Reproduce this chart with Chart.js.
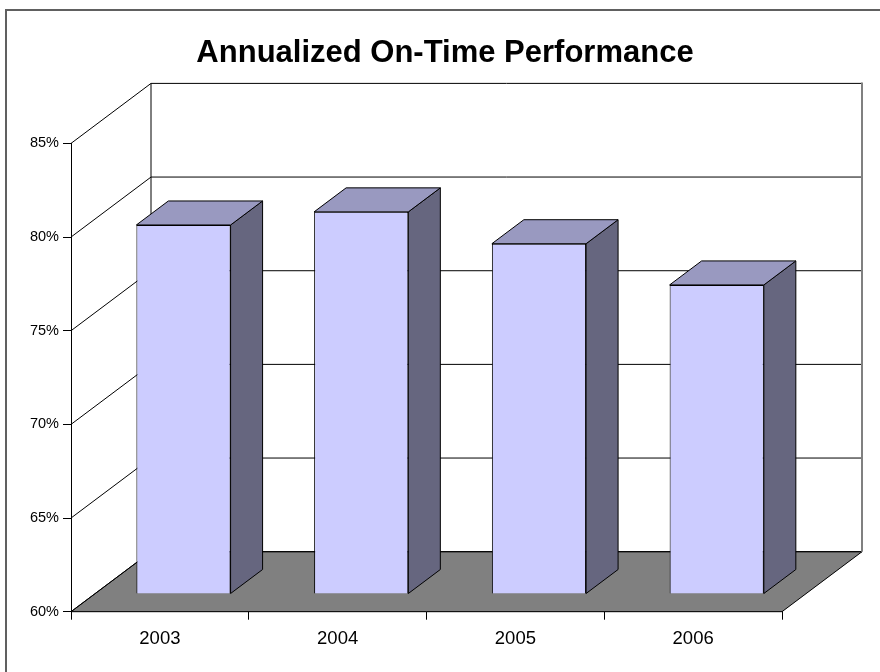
<!DOCTYPE html>
<html>
<head>
<meta charset="utf-8">
<script src="https://cdn.jsdelivr.net/npm/chart.js@4/dist/chart.umd.min.js"></script>
<style>
html, body { margin: 0; padding: 0; background: #fff; }
#wrap { width: 880px; height: 672px; }
</style>
</head>
<body>
<div id="wrap"><canvas id="chart"></canvas></div>
<script>
// chart data
const years = ['2003', '2004', '2005', '2006'];
const onTime = [79.7, 80.4, 78.7, 76.5];
const yMin = 60;
const yMax = 85;
const yStep = 5;

// 3-d look: offset of the back wall, of the bar front faces and bar depth
const WALL = { dx: 80, dy: -60 };
const BAR_FRONT = { dx: 23.6, dy: -17.7 };
const BAR_DEPTH = { dx: 32, dy: -24 };

const poly = (ctx, pts, fill) => {
    ctx.beginPath();
    ctx.moveTo(pts[0][0], pts[0][1]);
    for (let i = 1; i < pts.length; i++) ctx.lineTo(pts[i][0], pts[i][1]);
    ctx.closePath();
    if (fill) {
        ctx.fillStyle = fill;
        ctx.fill();
    }
    ctx.stroke();
};

const line = (ctx, x1, y1, x2, y2) => {
    ctx.beginPath();
    ctx.moveTo(x1, y1);
    ctx.lineTo(x2, y2);
    ctx.stroke();
};

const threeD = {
    id: 'threeD',
    beforeDraw(chart) {
        // outer frame of the chart object
        const ctx = chart.ctx;
        ctx.save();
        ctx.strokeStyle = '#606060';
        ctx.lineWidth = 2;
        ctx.strokeRect(6, 10, 900, 700);
        ctx.restore();
    },
    beforeDatasetsDraw(chart) {
        const ctx = chart.ctx;
        const { left, right } = chart.chartArea;
        const y = chart.scales.y;
        const top = y.getPixelForValue(yMax);
        const bottom = y.getPixelForValue(yMin);
        ctx.save();
        ctx.strokeStyle = '#000';
        ctx.lineWidth = 1;
        // floor
        poly(ctx, [
            [left, bottom], [right, bottom],
            [right + WALL.dx, bottom + WALL.dy], [left + WALL.dx, bottom + WALL.dy]
        ], '#808080');
        // left and back walls with their gridlines
        for (let v = yMin; v <= yMax; v += yStep) {
            const py = y.getPixelForValue(v);
            line(ctx, left, py, left + WALL.dx, py + WALL.dy);
            line(ctx, left + WALL.dx, py + WALL.dy, right + WALL.dx, py + WALL.dy);
        }
        line(ctx, left + WALL.dx, top + WALL.dy, left + WALL.dx, bottom + WALL.dy);
        ctx.strokeStyle = '#808080';
        ctx.lineWidth = 2;
        line(ctx, right + WALL.dx, top + WALL.dy - 1, right + WALL.dx, bottom + WALL.dy);
        ctx.restore();
        // bars are drawn on a plane a little behind the front
        ctx.save();
        ctx.translate(BAR_FRONT.dx, BAR_FRONT.dy);
    },
    afterDatasetsDraw(chart) {
        const ctx = chart.ctx;
        const meta = chart.getDatasetMeta(0);
        ctx.strokeStyle = '#000';
        ctx.lineWidth = 1;
        ctx.lineJoin = 'round';
        meta.data.forEach(bar => {
            const { x, y, base, width } = bar.getProps(['x', 'y', 'base', 'width'], true);
            const l = x - width / 2;
            const r = x + width / 2;
            poly(ctx, [
                [r, y], [r + BAR_DEPTH.dx, y + BAR_DEPTH.dy],
                [r + BAR_DEPTH.dx, base + BAR_DEPTH.dy], [r, base]
            ], '#66667f');
            poly(ctx, [
                [l, y], [l + BAR_DEPTH.dx, y + BAR_DEPTH.dy],
                [r + BAR_DEPTH.dx, y + BAR_DEPTH.dy], [r, y]
            ], '#9999c0');
        });
        ctx.restore();
    }
};

new Chart(document.getElementById('chart'), {
    type: 'bar',
    data: {
        labels: years,
        datasets: [{
            data: onTime,
            base: yMin,
            backgroundColor: '#ccccff',
            borderColor: '#000',
            borderWidth: 1,
            barPercentage: 0.53,
            categoryPercentage: 1,
            clip: false
        }]
    },
    options: {
        responsive: true,
        maintainAspectRatio: false,
        animation: false,
        layout: { padding: { left: 10, right: 0, top: 0, bottom: 0 } },
        scales: {
            x: {
                grid: { drawOnChartArea: false, tickLength: 8, color: '#000' },
                border: { color: '#000' },
                ticks: { color: '#000', padding: 8, font: { family: 'Liberation Sans, Arial', size: 18.5 } },
                afterFit(s) { s.height = 60.3; }
            },
            y: {
                min: yMin,
                max: yMax,
                ticks: {
                    stepSize: yStep,
                    color: '#000',
                    padding: 4,
                    font: { family: 'Liberation Sans, Arial', size: 14.5 },
                    callback: v => v + '%'
                },
                grid: { drawOnChartArea: false, tickLength: 8, color: '#000' },
                border: { color: '#000' },
                afterFit(s) { s.width = 61; }
            },
            pad: {
                type: 'linear',
                position: 'right',
                display: true,
                grid: { display: false },
                border: { display: false },
                ticks: { display: false },
                afterFit(s) { s.width = 98; }
            }
        },
        plugins: {
            legend: { display: false },
            tooltip: { enabled: false },
            title: {
                display: true,
                text: 'Annualized On-Time Performance',
                color: '#000',
                font: { family: 'Liberation Sans, Arial', size: 31, weight: 'bold' },
                padding: { top: 35, bottom: 71.2 }
            }
        }
    },
    plugins: [threeD]
});
</script>
</body>
</html>
